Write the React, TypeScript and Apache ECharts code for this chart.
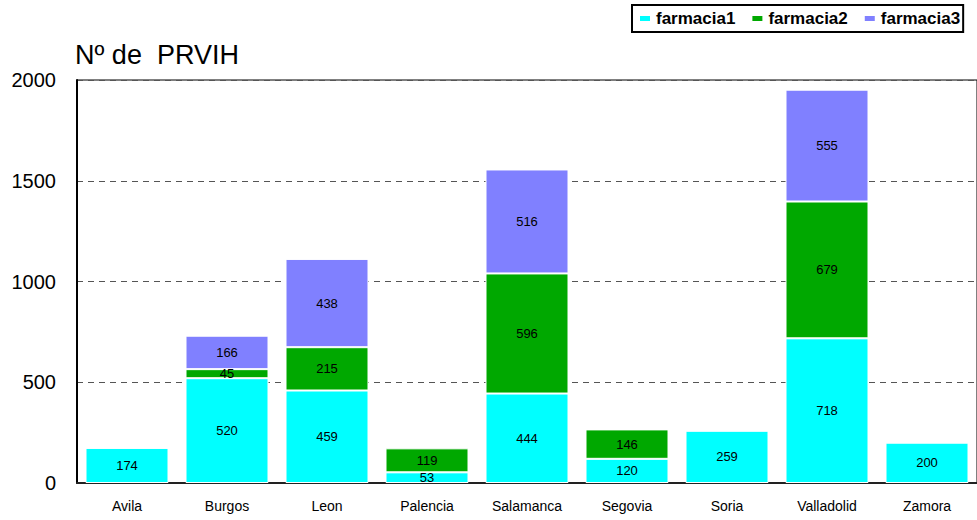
import React, { useEffect, useRef } from "react";
import * as echarts from "echarts";

const categories = ["Avila", "Burgos", "Leon", "Palencia", "Salamanca", "Segovia", "Soria", "Valladolid", "Zamora"];
const farmacia1 = [174, 520, 459, 53, 444, 120, 259, 718, 200];
const farmacia2 = [null, 45, 215, 119, 596, 146, null, 679, null];
const farmacia3 = [null, 166, 438, null, 516, null, null, 555, null];
const seriesNames = ["farmacia1", "farmacia2", "farmacia3"];
const colors = ["#00ffff", "#00a800", "#8080ff"];
const yTicks = { min: 0, max: 2000, interval: 500 };

export default function App() {
  const ref = useRef<HTMLDivElement>(null);
  useEffect(() => {
    const chart = echarts.init(ref.current!, null, { renderer: "svg" });
    const font = "'Liberation Sans', Arial, sans-serif";
    const mk = (name: string, data: (number | null)[], color: string) => ({
      name,
      type: "bar",
      stack: "total",
      data,
      barCategoryGap: "17%",
      itemStyle: { color, borderColor: "#ffffff", borderWidth: 1 },
      label: {
        show: true,
        position: "inside",
        color: "#000",
        fontFamily: font,
        fontSize: 13,
        formatter: (p: any) => (p.value == null ? "" : String(p.value)),
      },
    });
    chart.setOption({
      animation: false,
      textStyle: { fontFamily: font },
      title: {
        text: "Nº de  PRVIH",
        left: 70,
        top: 36,
        textStyle: { fontFamily: font, fontSize: 27, fontWeight: "normal", color: "#000" },
      },
      legend: {
        data: seriesNames,
        icon: "rect",
        left: 632,
        top: 5,
        itemWidth: 12,
        itemHeight: 7,
        itemGap: 15,
        padding: [5, 3, 5, 6],
        backgroundColor: "#fff",
        borderColor: "#000",
        borderWidth: 2,
        textStyle: { fontFamily: font, fontSize: 17, fontWeight: "bold", color: "#000" },
      },
      color: colors,
      grid: {
        left: 77,
        right: 0,
        top: 80,
        bottom: 37,
        show: true,
        borderColor: "#000",
        borderWidth: 1,
        backgroundColor: "transparent",
      },
      xAxis: {
        type: "category",
        data: categories,
        axisLine: { lineStyle: { color: "#222", width: 2 } },
        axisTick: { show: false },
        axisLabel: { color: "#000", fontFamily: font, fontSize: 14, margin: 16 },
      },
      yAxis: {
        type: "value",
        min: yTicks.min,
        max: yTicks.max,
        interval: yTicks.interval,
        axisLine: { show: true, lineStyle: { color: "#000", width: 2 } },
        axisTick: { show: false },
        axisLabel: {
          color: "#000",
          fontFamily: font,
          fontSize: 20,
          margin: 21,
          formatter: (v: number) => String(v),
        },
        splitLine: { show: true, lineStyle: { color: "#555", type: [6, 5], width: 1 } },
      },
      series: [
        mk(seriesNames[0], farmacia1, colors[0]),
        mk(seriesNames[1], farmacia2, colors[1]),
        mk(seriesNames[2], farmacia3, colors[2]),
      ],
    });
    return () => chart.dispose();
  }, []);
  return <div ref={ref} style={{ width: 977, height: 520, position: "absolute", left: 0, top: 0 }} />;
}
